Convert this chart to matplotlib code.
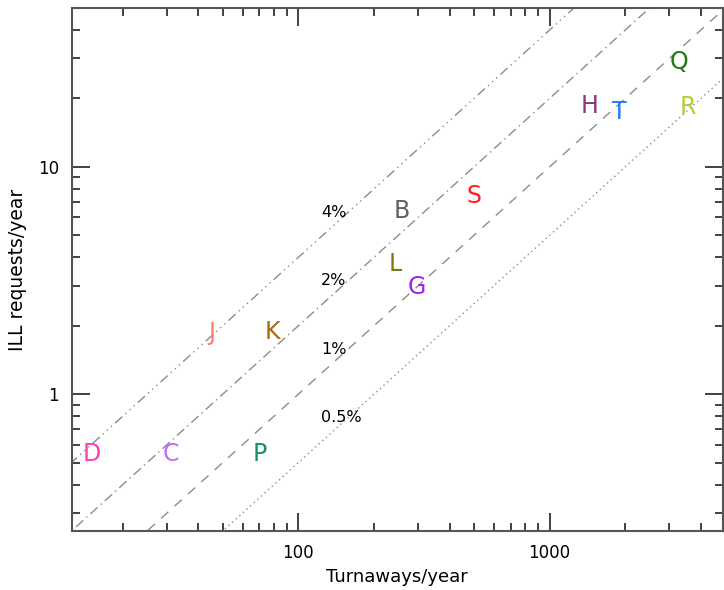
import numpy as np
import matplotlib
matplotlib.use('Agg')
import matplotlib.pyplot as plt
from matplotlib.ticker import LogLocator, NullFormatter, FixedLocator, FixedFormatter

# Libraries: turnaways vs ILL requests per year
libs = ['D', 'C', 'P', 'J', 'K', 'B', 'S', 'L', 'G', 'H', 'T', 'Q', 'R']
turnaways = [15.1, 31.2, 70, 45, 79, 257, 498, 243, 295, 1443, 1900, 3266, 3550]
ill_requests = [0.544, 0.544, 0.544, 1.86, 1.88, 6.4, 7.44, 3.74, 2.97, 18.5, 17.5, 28.8, 18.3]
colours = ['#ff3fb4', '#c56bff', '#14916a', '#ff7f6e', '#a66b12', '#616161', '#ff1f1f',
           '#7f7a10', '#a020f0', '#8e3386', '#1f78ff', '#1f7a12', '#afcf36']

# Reference ratio lines (ILL = ratio * turnaways)
ratios = [0.04, 0.02, 0.01, 0.005]
ratio_labels = ['4%', '2%', '1%', '0.5%']
ratio_styles = [(0, (7, 3, 1, 3, 1, 3, 1, 3)), (0, (7, 3, 1, 3)), (0, (7, 6)), (0, (1, 2.5))]

fig = plt.figure(figsize=(7.24, 5.9), dpi=100)
ax = fig.add_axes([71.5 / 724, 59 / 590, (723 - 71.5) / 724, (531 - 8) / 590])
ax.set_xscale('log')
ax.set_yscale('log')
ax.set_xlim(12.5, 4900)
ax.set_ylim(0.25, 50)

xs = np.array([10.0, 10000.0])
for r, ls in zip(ratios, ratio_styles):
    ax.plot(xs, r * xs, color='#8c8c8c', lw=1.0, linestyle=ls)

# percentage labels along the lines
label_y = [6.33, 3.16, 1.58, 0.79]
for lab, yy in zip(ratio_labels, label_y):
    ax.text(123, yy, lab, fontsize=11.5, color='black', ha='left', va='center')

for name, x, y, c in zip(libs, turnaways, ill_requests, colours):
    ax.text(x, y, name, fontsize=17, color=c, ha='center', va='center')

ax.xaxis.set_major_locator(FixedLocator([100, 1000]))
ax.xaxis.set_major_formatter(FixedFormatter(['100', '1000']))
ax.yaxis.set_major_locator(FixedLocator([1, 10]))
ax.yaxis.set_major_formatter(FixedFormatter(['1', '10']))
ax.xaxis.set_minor_locator(LogLocator(base=10, subs=np.arange(2, 10)))
ax.yaxis.set_minor_locator(LogLocator(base=10, subs=np.arange(2, 10)))
ax.xaxis.set_minor_formatter(NullFormatter())
ax.yaxis.set_minor_formatter(NullFormatter())

ax.tick_params(which='both', direction='in', top=True, right=True, colors='#333333',
               labelcolor='black', labelsize=12)
ax.tick_params(which='major', length=13, width=1.3, pad=9)
ax.tick_params(which='minor', length=6, width=1.3)
for sp in ax.spines.values():
    sp.set_color('#555555')
    sp.set_linewidth(1.5)

ax.set_xlabel('Turnaways/year', fontsize=13, labelpad=5)
ax.set_ylabel('ILL requests/year', fontsize=13.5, labelpad=8)

fig.savefig('out.png', dpi=100)
